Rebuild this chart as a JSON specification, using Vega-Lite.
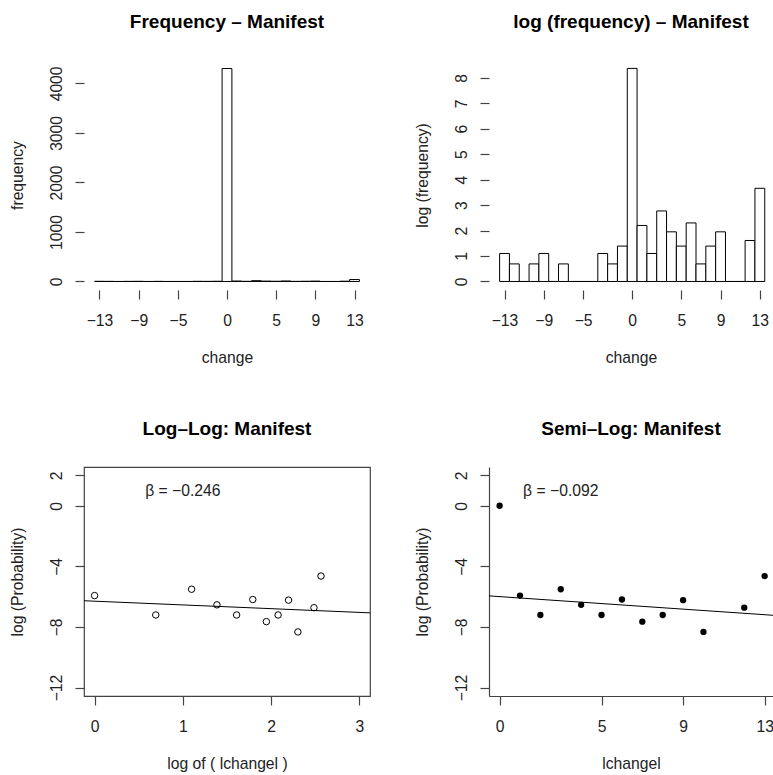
{
  "$schema": "https://vega.github.io/schema/vega-lite/v6.json",
  "autosize": {"type": "pad"},
  "padding": {"left": 8, "top": 13, "right": 0, "bottom": 0},
  "background": "white",
  "config": {
    "font": "Liberation Sans",
    "view": {"stroke": null},
    "axis": {
      "grid": false,
      "domain": false,
      "domainColor": "#444",
      "domainWidth": 1.2,
      "tickColor": "#444",
      "tickWidth": 1.2,
      "tickSize": 9,
      "labelFont": "Liberation Sans",
      "labelFontSize": 15.7,
      "labelColor": "#222",
      "labelFlush": false,
      "labelOverlap": false,
      "titleFont": "Liberation Sans",
      "titleFontSize": 15.7,
      "titleFontWeight": "normal",
      "titleColor": "#222",
      "format": "d"
    },
    "axisX": {
      "labelAngle": 0,
      "labelAlign": "center",
      "labelBaseline": "alphabetic",
      "labelPadding": 26,
      "titleBaseline": "alphabetic",
      "titleY": 72.5
    },
    "axisY": {
      "labelAngle": -90,
      "labelAlign": "center",
      "labelBaseline": "alphabetic",
      "labelPadding": 13.3,
      "titleAngle": -90,
      "titleAlign": "center",
      "titleBaseline": "alphabetic",
      "titleX": -61.5
    },
    "title": {
      "font": "Liberation Sans",
      "fontSize": 19,
      "fontWeight": "bold",
      "color": "#000",
      "anchor": "middle",
      "frame": "group",
      "baseline": "alphabetic",
      "offset": 27.6
    }
  },
  "datasets": {
    "hist": [
      {"change": -13, "bin_start": -13.5, "bin_end": -12.5, "count": 3, "logfreq": 1.10},
      {"change": -12, "bin_start": -12.5, "bin_end": -11.5, "count": 2, "logfreq": 0.69},
      {"change": -11, "bin_start": -11.5, "bin_end": -10.5, "count": 0, "logfreq": 0},
      {"change": -10, "bin_start": -10.5, "bin_end": -9.5, "count": 2, "logfreq": 0.69},
      {"change": -9, "bin_start": -9.5, "bin_end": -8.5, "count": 3, "logfreq": 1.10},
      {"change": -8, "bin_start": -8.5, "bin_end": -7.5, "count": 0, "logfreq": 0},
      {"change": -7, "bin_start": -7.5, "bin_end": -6.5, "count": 2, "logfreq": 0.69},
      {"change": -6, "bin_start": -6.5, "bin_end": -5.5, "count": 0, "logfreq": 0},
      {"change": -5, "bin_start": -5.5, "bin_end": -4.5, "count": 0, "logfreq": 0},
      {"change": -4, "bin_start": -4.5, "bin_end": -3.5, "count": 0, "logfreq": 0},
      {"change": -3, "bin_start": -3.5, "bin_end": -2.5, "count": 3, "logfreq": 1.10},
      {"change": -2, "bin_start": -2.5, "bin_end": -1.5, "count": 2, "logfreq": 0.69},
      {"change": -1, "bin_start": -1.5, "bin_end": -0.5, "count": 4, "logfreq": 1.39},
      {"change": 0, "bin_start": -0.5, "bin_end": 0.5, "count": 4300, "logfreq": 8.37},
      {"change": 1, "bin_start": 0.5, "bin_end": 1.5, "count": 9, "logfreq": 2.20},
      {"change": 2, "bin_start": 1.5, "bin_end": 2.5, "count": 3, "logfreq": 1.10},
      {"change": 3, "bin_start": 2.5, "bin_end": 3.5, "count": 16, "logfreq": 2.77},
      {"change": 4, "bin_start": 3.5, "bin_end": 4.5, "count": 7, "logfreq": 1.95},
      {"change": 5, "bin_start": 4.5, "bin_end": 5.5, "count": 4, "logfreq": 1.39},
      {"change": 6, "bin_start": 5.5, "bin_end": 6.5, "count": 10, "logfreq": 2.30},
      {"change": 7, "bin_start": 6.5, "bin_end": 7.5, "count": 2, "logfreq": 0.69},
      {"change": 8, "bin_start": 7.5, "bin_end": 8.5, "count": 4, "logfreq": 1.39},
      {"change": 9, "bin_start": 8.5, "bin_end": 9.5, "count": 7, "logfreq": 1.95},
      {"change": 10, "bin_start": 9.5, "bin_end": 10.5, "count": 0, "logfreq": 0},
      {"change": 11, "bin_start": 10.5, "bin_end": 11.5, "count": 0, "logfreq": 0},
      {"change": 12, "bin_start": 11.5, "bin_end": 12.5, "count": 5, "logfreq": 1.61},
      {"change": 13, "bin_start": 12.5, "bin_end": 13.5, "count": 39, "logfreq": 3.66}
    ],
    "loglog": [
      {"abschange": 1, "logabs": 0.0, "logprob": -5.93},
      {"abschange": 2, "logabs": 0.693, "logprob": -7.21},
      {"abschange": 3, "logabs": 1.099, "logprob": -5.51},
      {"abschange": 4, "logabs": 1.386, "logprob": -6.54},
      {"abschange": 5, "logabs": 1.609, "logprob": -7.21},
      {"abschange": 6, "logabs": 1.792, "logprob": -6.19},
      {"abschange": 7, "logabs": 1.946, "logprob": -7.65},
      {"abschange": 8, "logabs": 2.079, "logprob": -7.21},
      {"abschange": 9, "logabs": 2.197, "logprob": -6.23},
      {"abschange": 10, "logabs": 2.303, "logprob": -8.33},
      {"abschange": 12, "logabs": 2.485, "logprob": -6.73},
      {"abschange": 13, "logabs": 2.565, "logprob": -4.64}
    ],
    "semilog": [
      {"abschange": 0, "logprob": 0.0},
      {"abschange": 1, "logprob": -5.93},
      {"abschange": 2, "logprob": -7.21},
      {"abschange": 3, "logprob": -5.51},
      {"abschange": 4, "logprob": -6.54},
      {"abschange": 5, "logprob": -7.21},
      {"abschange": 6, "logprob": -6.19},
      {"abschange": 7, "logprob": -7.65},
      {"abschange": 8, "logprob": -7.21},
      {"abschange": 9, "logprob": -6.23},
      {"abschange": 10, "logprob": -8.33},
      {"abschange": 12, "logprob": -6.73},
      {"abschange": 13, "logprob": -4.64}
    ],
    "fit_loglog": [
      {"logabs": -0.12, "logprob": -6.27},
      {"logabs": 3.12, "logprob": -7.07}
    ],
    "fit_semilog": [
      {"abschange": -0.52, "logprob": -5.95},
      {"abschange": 13.41, "logprob": -7.23}
    ],
    "notes": [
      {"panel": "loglog", "x": 1, "y": 1, "label": "β = −0.246"},
      {"panel": "semilog", "x": 3, "y": 1, "label": "β = −0.092"}
    ]
  },
  "columns": 2,
  "bounds": "flush",
  "spacing": {"row": 177, "column": 119},
  "concat": [
    {
      "width": 286,
      "height": 230,
      "title": "Frequency – Manifest",
      "layer": [
        {
          "data": {"name": "hist"},
          "mark": {"type": "rect", "fill": "white", "stroke": "#000", "strokeWidth": 1},
          "encoding": {
            "x": {"field": "bin_start", "type": "quantitative",
                  "scale": {"domain": [-14.58, 14.58], "nice": false, "zero": false},
                  "axis": {"values": [-13, -9, -5, 0, 5, 9, 13], "title": "change"}},
            "x2": {"field": "bin_end"},
            "y": {"field": "count", "type": "quantitative",
                  "scale": {"domain": [-172, 4472], "nice": false, "zero": false},
                  "axis": {"values": [0, 1000, 2000, 3000, 4000], "title": "frequency"}},
            "y2": {"datum": 0}
          }
        },
        {
          "mark": {"type": "rule", "color": "#444", "strokeWidth": 1.2},
          "encoding": {
            "x": {"datum": -13, "type": "quantitative", "axis": {"values": [-13, -9, -5, 0, 5, 9, 13], "title": "change"}},
            "x2": {"datum": 13},
            "y": {"datum": -172, "type": "quantitative", "axis": {"values": [0, 1000, 2000, 3000, 4000], "title": "frequency"}}
          }
        },
        {
          "mark": {"type": "rule", "color": "#444", "strokeWidth": 1.2},
          "encoding": {
            "y": {"datum": 0, "type": "quantitative", "axis": {"values": [0, 1000, 2000, 3000, 4000], "title": "frequency"}},
            "y2": {"datum": 4000},
            "x": {"datum": -14.58, "type": "quantitative", "axis": {"values": [-13, -9, -5, 0, 5, 9, 13], "title": "change"}}
          }
        }
      ]
    },
    {
      "width": 284,
      "height": 230,
      "title": "log (frequency) – Manifest",
      "layer": [
        {
          "data": {"name": "hist"},
          "mark": {"type": "rect", "fill": "white", "stroke": "#000", "strokeWidth": 1},
          "encoding": {
            "x": {"field": "bin_start", "type": "quantitative",
                  "scale": {"domain": [-14.58, 14.34], "nice": false, "zero": false},
                  "axis": {"values": [-13, -9, -5, 0, 5, 9, 13], "title": "change"}},
            "x2": {"field": "bin_end"},
            "y": {"field": "logfreq", "type": "quantitative",
                  "scale": {"domain": [-0.335, 8.7], "nice": false, "zero": false},
                  "axis": {"values": [0, 1, 2, 3, 4, 5, 6, 7, 8], "title": "log (frequency)"}},
            "y2": {"datum": 0}
          }
        },
        {
          "mark": {"type": "rule", "color": "#444", "strokeWidth": 1.2},
          "encoding": {
            "x": {"datum": -13, "type": "quantitative", "axis": {"values": [-13, -9, -5, 0, 5, 9, 13], "title": "change"}},
            "x2": {"datum": 13},
            "y": {"datum": -0.335, "type": "quantitative", "axis": {"values": [0, 1, 2, 3, 4, 5, 6, 7, 8], "title": "log (frequency)"}}
          }
        },
        {
          "mark": {"type": "rule", "color": "#444", "strokeWidth": 1.2},
          "encoding": {
            "y": {"datum": 0, "type": "quantitative", "axis": {"values": [0, 1, 2, 3, 4, 5, 6, 7, 8], "title": "log (frequency)"}},
            "y2": {"datum": 8.7},
            "x": {"datum": -14.58, "type": "quantitative", "axis": {"values": [-13, -9, -5, 0, 5, 9, 13], "title": "change"}}
          }
        }
      ]
    },
    {
      "width": 286,
      "height": 229,
      "title": "Log–Log: Manifest",
      "view": {"stroke": "#444", "strokeWidth": 1.2},
      "layer": [
        {
          "data": {"name": "fit_loglog"},
          "mark": {"type": "line", "color": "#000", "strokeWidth": 1},
          "encoding": {
            "x": {"field": "logabs", "type": "quantitative",
                  "scale": {"domain": [-0.12, 3.12], "nice": false, "zero": false},
                  "axis": {"values": [0, 1, 2, 3], "title": "log of ( lchangel )"}},
            "y": {"field": "logprob", "type": "quantitative",
                  "scale": {"domain": [-12.56, 2.56], "nice": false, "zero": false},
                  "axis": {"values": [-12, -8, -4, 0, 2], "title": "log (Probability)"}}
          }
        },
        {
          "data": {"name": "loglog"},
          "mark": {"type": "point", "shape": "circle", "filled": false, "color": "#000", "strokeWidth": 1, "size": 42, "opacity": 1},
          "encoding": {
            "x": {"field": "logabs", "type": "quantitative", "axis": {"values": [0, 1, 2, 3], "title": "log of ( lchangel )"}},
            "y": {"field": "logprob", "type": "quantitative", "axis": {"values": [-12, -8, -4, 0, 2], "title": "log (Probability)"}}
          }
        },
        {
          "data": {"name": "notes"},
          "transform": [{"filter": "datum.panel === 'loglog'"}],
          "mark": {"type": "text", "fontSize": 15.7, "color": "#222", "align": "center", "baseline": "middle"},
          "encoding": {
            "x": {"field": "x", "type": "quantitative", "axis": {"values": [0, 1, 2, 3], "title": "log of ( lchangel )"}},
            "y": {"field": "y", "type": "quantitative", "axis": {"values": [-12, -8, -4, 0, 2], "title": "log (Probability)"}},
            "text": {"field": "label"}
          }
        }
      ]
    },
    {
      "width": 284,
      "height": 229,
      "title": "Semi–Log: Manifest",
      "layer": [
        {
          "data": {"name": "fit_semilog"},
          "mark": {"type": "line", "color": "#000", "strokeWidth": 1},
          "encoding": {
            "x": {"field": "abschange", "type": "quantitative",
                  "scale": {"domain": [-0.52, 13.41], "nice": false, "zero": false},
                  "axis": {"values": [0, 5, 9, 13], "title": "lchangel", "domain": true}},
            "y": {"field": "logprob", "type": "quantitative",
                  "scale": {"domain": [-12.56, 2.56], "nice": false, "zero": false},
                  "axis": {"values": [-12, -8, -4, 0, 2], "title": "log (Probability)", "domain": true}}
          }
        },
        {
          "data": {"name": "semilog"},
          "mark": {"type": "circle", "color": "#000", "size": 40, "opacity": 1},
          "encoding": {
            "x": {"field": "abschange", "type": "quantitative", "axis": {"values": [0, 5, 9, 13], "title": "lchangel", "domain": true}},
            "y": {"field": "logprob", "type": "quantitative", "axis": {"values": [-12, -8, -4, 0, 2], "title": "log (Probability)", "domain": true}}
          }
        },
        {
          "data": {"name": "notes"},
          "transform": [{"filter": "datum.panel === 'semilog'"}],
          "mark": {"type": "text", "fontSize": 15.7, "color": "#222", "align": "center", "baseline": "middle"},
          "encoding": {
            "x": {"field": "x", "type": "quantitative", "axis": {"values": [0, 5, 9, 13], "title": "lchangel", "domain": true}},
            "y": {"field": "y", "type": "quantitative", "axis": {"values": [-12, -8, -4, 0, 2], "title": "log (Probability)", "domain": true}},
            "text": {"field": "label"}
          }
        },
        {
          "mark": {"type": "rule", "color": "#444", "strokeWidth": 1.2},
          "encoding": {
            "y": {"datum": 2.56, "type": "quantitative", "axis": {"values": [-12, -8, -4, 0, 2], "title": "log (Probability)", "domain": true}}
          }
        }
      ]
    }
  ]
}
